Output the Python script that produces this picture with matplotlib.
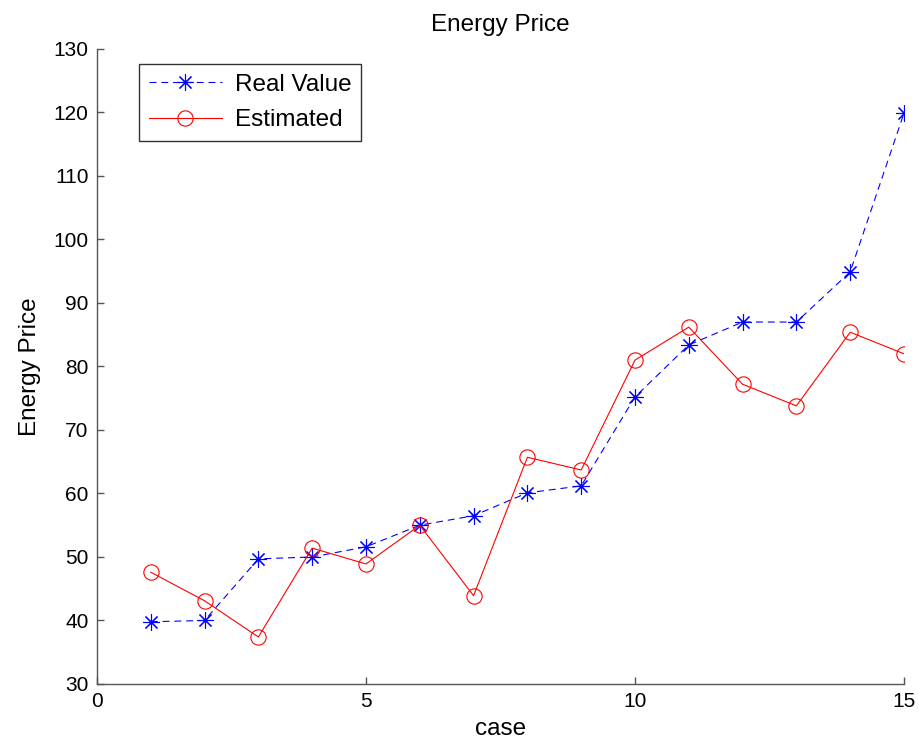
import matplotlib
matplotlib.use("Agg")
import matplotlib.pyplot as plt
import numpy as np

plt.rcParams['font.family'] = ['Liberation Sans', 'DejaVu Sans']
plt.rcParams['lines.scale_dashes'] = False

# case index and the two price series
cases = np.arange(1, 16)
real_value = [39.8, 40.0, 49.7, 50.0, 51.6, 55.0, 56.5, 60.1, 61.2,
              75.2, 83.4, 87.0, 87.0, 94.9, 119.9]
estimated = [47.6, 43.1, 37.4, 51.4, 48.9, 55.0, 43.9, 65.7, 63.7,
             81.0, 86.2, 77.2, 73.8, 85.4, 82.0]

fig = plt.figure(figsize=(9.2, 7.48), dpi=100)
ax = fig.add_axes([0.1054, 0.0856, 0.8772, 0.8489])

ax.plot(cases, real_value, color='b', linestyle=(0, (5, 3.5)), linewidth=0.8,
        marker=(8, 2, 0), markersize=12, markeredgewidth=0.8,
        label='Real Value')
ax.plot(cases, estimated, color='r', linestyle='-', linewidth=0.8,
        marker='o', markersize=11, markerfacecolor='none',
        markeredgewidth=0.8, label='Estimated')

ax.set_xlim(0, 15)
ax.set_ylim(30, 130)
ax.set_xticks([0, 5, 10, 15])
ax.set_yticks(np.arange(30, 131, 10))

for side in ('top', 'right'):
    ax.spines[side].set_visible(False)
for side in ('left', 'bottom'):
    ax.spines[side].set_color('#555555')
    ax.spines[side].set_linewidth(1.0)

ax.tick_params(direction='in', length=5, width=1.0, color='#555555',
               labelsize=15, labelcolor='black', pad=6)

ax.set_title('Energy Price', fontsize=17.5, pad=13)
ax.set_xlabel('case', fontsize=17.5, labelpad=5)
ax.set_ylabel('Energy Price', fontsize=17.5, labelpad=9)

leg = ax.legend(loc='upper left', bbox_to_anchor=(0.052, 0.976),
                fontsize=17.5, frameon=True, fancybox=False,
                handlelength=3.0, handletextpad=0.55, borderpad=0.4,
                labelspacing=0.55, borderaxespad=0)
leg.get_frame().set_edgecolor('black')
leg.get_frame().set_linewidth(1.0)

fig.savefig('out.png', dpi=100)
